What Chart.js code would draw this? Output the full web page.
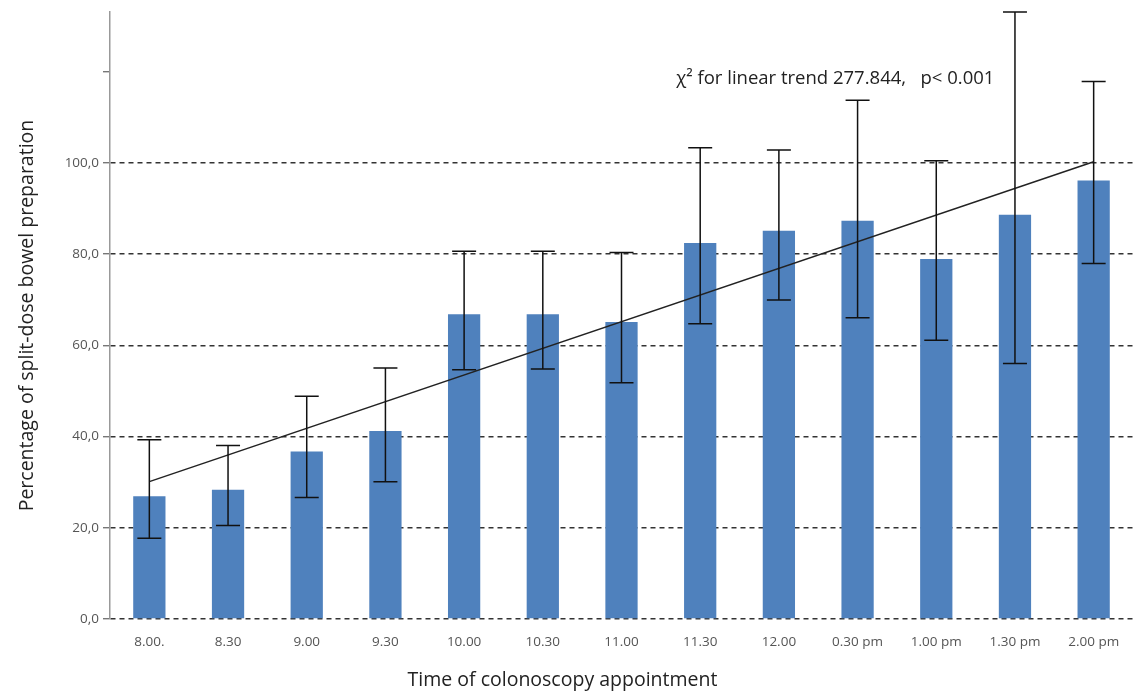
<!DOCTYPE html>
<html>
<head>
<meta charset="utf-8">
<script src="https://cdn.jsdelivr.net/npm/chart.js@4"></script>
<style>
  html, body { margin: 0; padding: 0; background: #fff; }
  #wrap { width: 1138px; height: 693px; position: relative; }
</style>
</head>
<body>
<div id="wrap"><canvas id="bowel-chart"></canvas></div>
<script>
const times = ['8.00.', '8.30', '9.00', '9.30', '10.00', '10.30', '11.00', '11.30', '12.00', '0.30 pm', '1.00 pm', '1.30 pm', '2.00 pm']
const percentages = [26.9, 28.3, 36.7, 41.2, 66.8, 66.8, 65.1, 82.4, 85.1, 87.3, 78.9, 88.6, 96.1]
const errLow = [17.7, 20.5, 26.6, 30.1, 54.6, 54.8, 51.8, 64.7, 69.9, 66.0, 61.1, 56.0, 77.9]
const errHigh = [39.3, 38.0, 48.8, 55.0, 80.6, 80.6, 80.3, 103.3, 102.8, 113.7, 100.4, 133.0, 117.8]
// trend line: only the two end points, spanned by the library
const trend = [30.1, null, null, null, null, null, null, null, null, null, null, null, 100.2]
const yTicks = [0, 20, 40, 60, 80, 100, 120]
const trendLabel = 'χ² for linear trend 277.844,   p< 0.001'
const xTitle = 'Time of colonoscopy appointment'

const barBlue = 'rgb(79, 129, 189)'
const fontFamily = '"Open Sans", "DejaVu Sans", sans-serif'

const errorBars = {
    id: 'errorBars',
    afterDatasetsDraw(chart) {
        const { ctx, scales: { x, y } } = chart
        ctx.save()
        ctx.strokeStyle = '#111'
        ctx.lineWidth = 1.5
        times.forEach((t, i) => {
            const cx = x.getPixelForValue(i)
            const top = y.getPixelForValue(errHigh[i])
            const bot = y.getPixelForValue(errLow[i])
            ctx.beginPath()
            ctx.moveTo(cx, top); ctx.lineTo(cx, bot)
            ctx.moveTo(cx - 12, top); ctx.lineTo(cx + 12, top)
            ctx.moveTo(cx - 12, bot); ctx.lineTo(cx + 12, bot)
            ctx.stroke()
        })
        ctx.fillStyle = '#222'
        ctx.textBaseline = 'middle'
        // annotation text
        ctx.font = '18.5px ' + fontFamily
        ctx.textAlign = 'left'
        ctx.fillText(trendLabel, x.getPixelForValue(7) - 24, y.getPixelForValue(118.5))
        // x axis title, sits left of the plot centre in the original
        ctx.font = '19.5px ' + fontFamily
        ctx.textAlign = 'center'
        ctx.fillText(xTitle, x.getPixelForValue(5.25), x.bottom - 13)
        ctx.restore()
    }
}

const ctx = document.getElementById('bowel-chart')

new Chart(ctx, {
    type: 'bar',
    data: {
        labels: times,
        datasets: [{
            type: 'line',
            label: 'Trend',
            data: trend,
            spanGaps: true,
            borderColor: '#222',
            borderWidth: 1.5,
            pointRadius: 0,
            order: 0
        }, {
            label: 'Percentage',
            data: percentages,
            backgroundColor: barBlue,
            barPercentage: 0.41,
            categoryPercentage: 1,
            order: 1
        }]
    },
    options: {
        responsive: true,
        maintainAspectRatio: false,
        animation: false,
        layout: { padding: { top: 8, right: 5, left: 0, bottom: 0 } },
        plugins: {
            legend: { display: false },
            tooltip: { enabled: false }
        },
        scales: {
            x: {
                grid: { display: false },
                border: { display: false },
                ticks: {
                    color: '#555',
                    font: { family: fontFamily, size: 13.5 },
                    padding: 7,
                    maxRotation: 0,
                    autoSkip: false
                },
                afterFit: s => { s.height = 74 }
            },
            y: {
                min: 0,
                max: 133,
                afterBuildTicks: s => { s.ticks = yTicks.map(v => ({ value: v })) },
                grid: {
                    color: c => c.tick && c.tick.value > 100 ? 'rgba(0,0,0,0)' : '#333',
                    tickColor: '#777',
                    tickLength: 7,
                    lineWidth: 1.4
                },
                border: { display: true, color: '#999', width: 1.5, dash: [5, 4] },
                ticks: {
                    color: '#555',
                    font: { family: fontFamily, size: 13.5 },
                    padding: 4,
                    callback: v => v > 100 ? '' : v.toFixed(1).replace('.', ',')
                },
                title: {
                    display: true,
                    text: 'Percentage of split-dose bowel preparation',
                    color: '#222',
                    font: { family: fontFamily, size: 19.5 },
                    padding: { top: 16, bottom: 8 }
                },
                afterFit: s => { s.width = 110 }
            }
        }
    },
    plugins: [errorBars]
})
</script>
</body>
</html>
